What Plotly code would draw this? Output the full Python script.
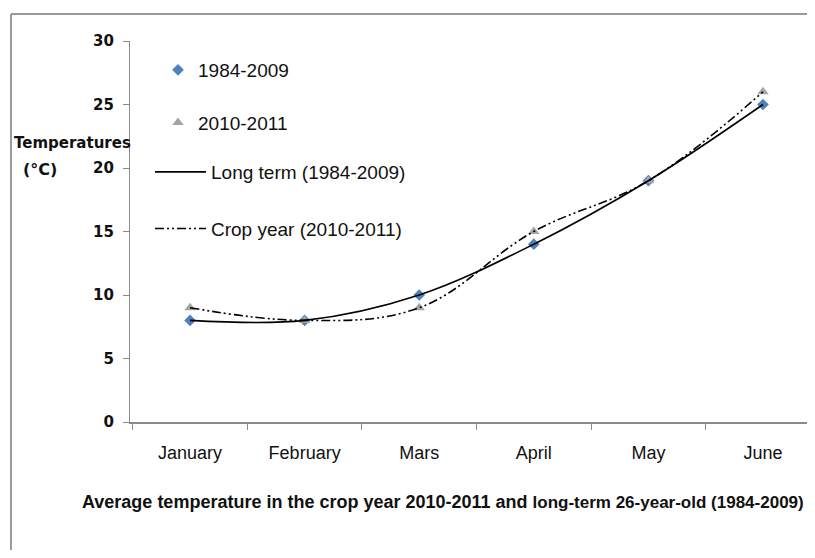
import plotly.graph_objects as go

months = ["January", "February", "Mars", "April", "May", "June"]
long_term = [8, 8, 10, 14, 19, 25]      # 1984-2009
crop_year = [9, 8, 9, 15, 19, 26]       # 2010-2011
y_ticks = [0, 5, 10, 15, 20, 25, 30]

fig = go.Figure()

fig.add_trace(go.Scatter(
    x=months, y=long_term, mode="markers", name="1984-2009",
    marker=dict(symbol="diamond", size=9, color="#4f81bd"),
    legend="legend", legendgroup="a"))
fig.add_trace(go.Scatter(
    x=months, y=crop_year, mode="markers", name="2010-2011",
    marker=dict(symbol="triangle-up", size=10, color="#a5a5a5"),
    legend="legend", legendgroup="b"))
fig.add_trace(go.Scatter(
    x=months, y=long_term, mode="lines", name="Long term (1984-2009)",
    line=dict(color="black", width=1.6, shape="spline", smoothing=1),
    legend="legend2", legendgroup="c"))
fig.add_trace(go.Scatter(
    x=months, y=crop_year, mode="lines", name="Crop year (2010-2011)",
    line=dict(color="black", width=1.6, shape="spline", smoothing=1.1,
              dash="9px,3px,2px,3px,2px,3px"),
    legend="legend2", legendgroup="d"))

# The page adds an 8px body margin; work in window pixels and shift.
OFF = 8
W, H = 815 - OFF, 558 - 2 * OFF
L = 130 - OFF
T = 41 - OFF
B = H - (422 - OFF)
R = 0
pw = W - L - R
ph = H - T - B

def px(x):
    return (x - OFF - L) / pw

def py(y):
    return (H - B - (y - OFF)) / ph

axis_col = "#8a8a8a"

fig.update_layout(
    width=W, height=H,
    margin=dict(l=L, r=R, t=T, b=B, pad=0),
    paper_bgcolor="white", plot_bgcolor="white",
    font=dict(family="Liberation Sans, Arial, sans-serif", color="#111"),
    xaxis=dict(
        type="category", range=[-0.524, 5.454],
        showgrid=False, zeroline=False,
        showline=True, linecolor=axis_col, linewidth=1.5,
        ticks="outside", ticklen=6, tickcolor=axis_col, tickwidth=1,
        tickson="boundaries",
        tickfont=dict(family="Liberation Sans, Arial, sans-serif", size=18, color="#111"),
        ticklabelstandoff=14,
    ),
    yaxis=dict(
        range=[0, 30], tickvals=y_ticks,
        showgrid=False, zeroline=False,
        showline=True, linecolor=axis_col, linewidth=1.2,
        ticks="outside", ticklen=6, tickcolor=axis_col, tickwidth=1,
        tickfont=dict(family="DejaVu Sans, sans-serif", size=15, color="#111", weight="bold"),
        ticklabelstandoff=6,
    ),
    legend=dict(
        x=px(158), y=py(51), xanchor="left", yanchor="top",
        bgcolor="rgba(0,0,0,0)", borderwidth=0,
        font=dict(family="Liberation Sans, Arial, sans-serif", size=19, color="#111"),
        tracegroupgap=25, itemwidth=30,
    ),
    legend2=dict(
        x=px(150), y=py(153), xanchor="left", yanchor="top",
        bgcolor="rgba(0,0,0,0)", borderwidth=0,
        font=dict(family="Liberation Sans, Arial, sans-serif", size=19, color="#111"),
        tracegroupgap=29, itemwidth=51,
    ),
    showlegend=True,
)

# Y-axis title (two lines, to the left)
fig.add_annotation(text="<b>Temperatures</b>", xref="paper", yref="paper",
                   x=px(12), y=py(143), xanchor="left", yanchor="middle",
                   showarrow=False,
                   font=dict(family="DejaVu Sans, sans-serif", size=15, color="#111"))
fig.add_annotation(text="<b>(°C)</b>", xref="paper", yref="paper",
                   x=px(21), y=py(170), xanchor="left", yanchor="middle",
                   showarrow=False,
                   font=dict(family="DejaVu Sans, sans-serif", size=16, color="#111"))

# Caption under the chart
fig.add_annotation(
    text=("<b>Average temperature in the crop year 2010-2011 and </b>"
          "<span style='font-size:17px'><b>long-term 26-year-old (1984-2009)</b></span>"),
    xref="paper", yref="paper", x=px(80), y=py(502),
    xanchor="left", yanchor="middle", showarrow=False,
    font=dict(family="Liberation Sans, Arial, sans-serif", size=18, color="#111"))

# Outer border (top and left edges visible)
fig.add_shape(type="line", xref="paper", yref="paper",
              x0=px(11), x1=px(820), y0=py(14), y1=py(14),
              line=dict(color="#9a9a9a", width=2))
fig.add_shape(type="line", xref="paper", yref="paper",
              x0=px(11), x1=px(11), y0=py(14), y1=py(560),
              line=dict(color="#9a9a9a", width=2))

fig.write_html("out.html")
